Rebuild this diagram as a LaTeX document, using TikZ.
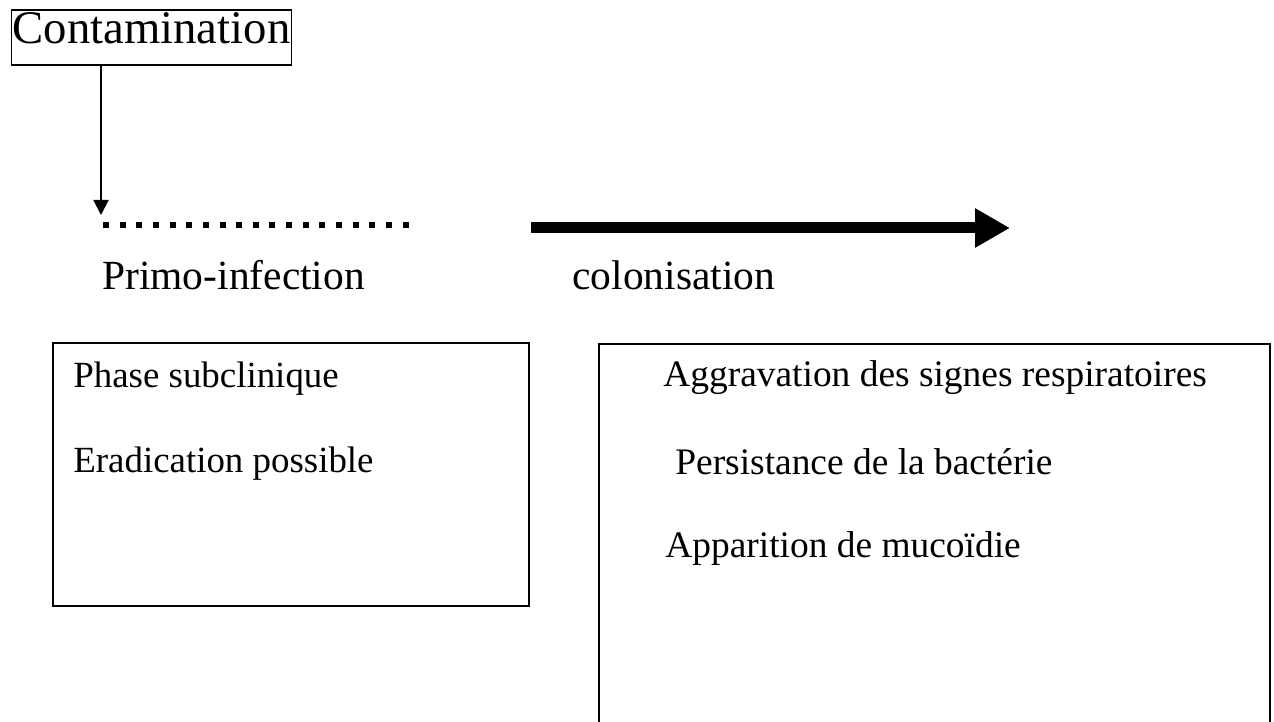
\documentclass[tikz,border=0pt]{standalone}
\usepackage{fontspec}
\setmainfont{Liberation Serif}
\usetikzlibrary{arrows.meta}

\begin{document}
\begin{tikzpicture}[x=0.02cm,y=-0.02cm,
    frame/.style={line width=.85pt},
    phase/.style={anchor=base west,inner sep=0pt,font=\fontsize{23.6}{28}\selectfont},
    item/.style={anchor=base west,inner sep=0pt,font=\fontsize{21}{25}\selectfont}]
    \useasboundingbox (0,0) rectangle (1274,722);
    \node[draw,line width=.6pt,inner xsep=.03cm,inner ysep=0pt,minimum height=1.1cm,
      text height=.76em,text depth=.02em,font=\fontsize{26.6}{32}\selectfont]
      (contam) at (151.5,37.5) {Contamination};
    \coordinate (hit) at (101,215);
    \coordinate (dotA) at (103,225);
    \coordinate (dotB) at (413,225);
    \coordinate (colA) at (531,228);
    \coordinate (colB) at (1010,228);
    \draw[line width=.04cm,-{Triangle[width=.3cm,length=.3cm]}] (contam.south -| hit) -- (hit);
    \draw[line width=.12cm,dash pattern=on .12cm off .213cm] (dotA) -- (dotB);
    \draw[line width=.22cm,-{Triangle[width=.74cm,length=.7cm]}] (colA) -- (colB);
    \node[phase] (primo) at (102,290) {Primo-infection};
    \node[phase] (colon) at (572,290) {colonisation};
    % boites
    \draw[frame] (53,343) rectangle (529,606);
    \draw[frame] (599,722) -- (599,344) -- (1270,344) -- (1270,722);
    \node[item] (phase1) at (73,388) {Phase subclinique};
    \node[item] (phase2) at (73,473) {Eradication possible};
    \foreach \x/\y/\t [count=\i] in {663/387/Aggravation des signes respiratoires,
      675/475/Persistance de la bactérie,665/557/Apparition de mucoïdie}
    \node[item,font=\fontsize{21.3}{25}\selectfont] (sympt\i) at (\x,\y) {\t};
  \end{tikzpicture}
\end{document}
